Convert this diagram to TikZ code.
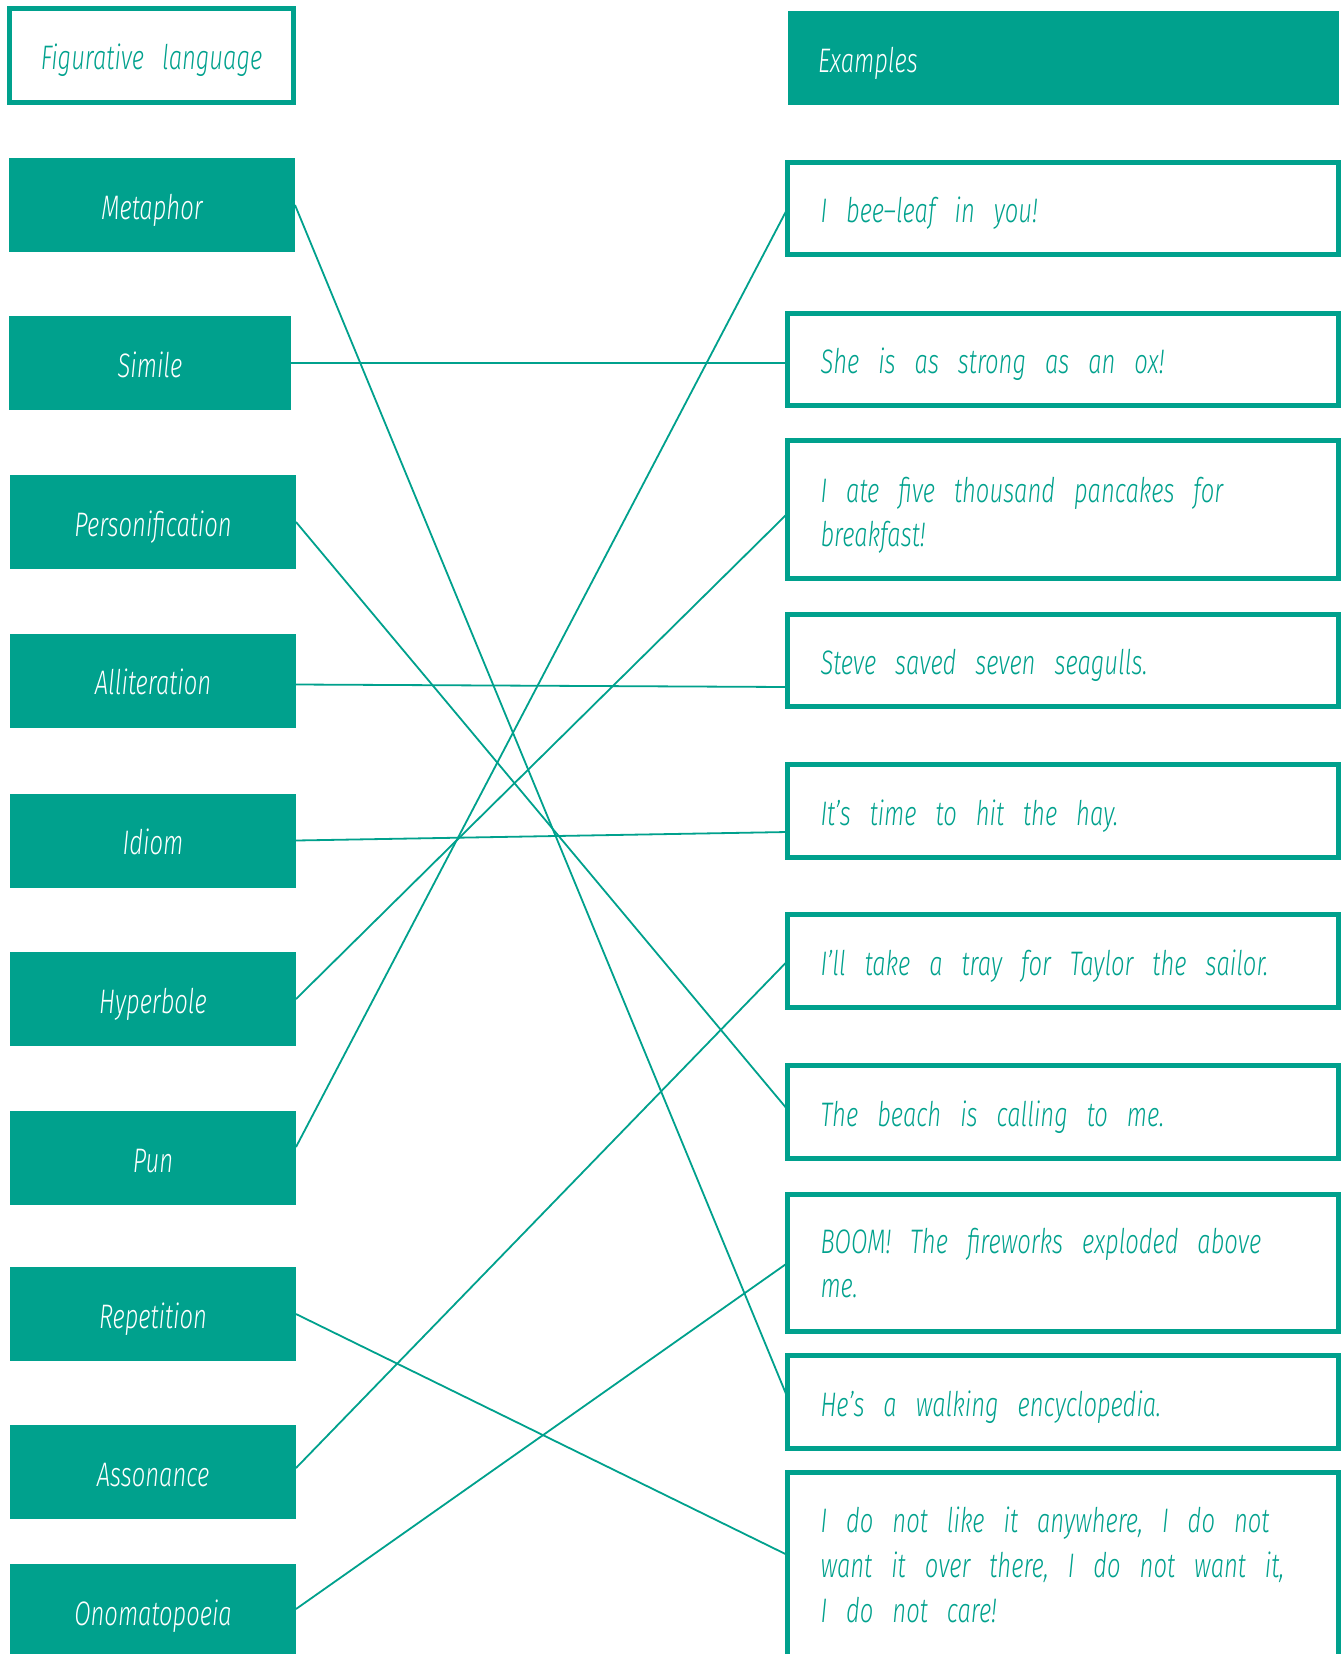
\documentclass[tikz,border=0pt]{standalone}
\usepackage{fontspec}
\newfontfamily\hand{Fira Sans Light}[ItalicFont={Fira Sans Light Italic}, FakeStretch=0.70]
\newfontfamily\handn{Fira Sans Light}[ItalicFont={Fira Sans Light Italic}, FakeStretch=0.70]
\definecolor{teal1}{RGB}{0,161,141}
\tikzset{
  widesp/.style={execute at begin node={\spaceskip=#1 plus 1pt minus 1pt\relax\xspaceskip=\spaceskip}},
  handfont/.style={font={\hand\itshape\fontsize{17}{22}\selectfont},
    text height=14pt, text depth=0pt, widesp=9.5pt},
  labfont/.style={font={\handn\itshape\fontsize{17}{22}\selectfont},
    text height=14pt, text depth=0pt, widesp=9pt},
  lab/.style={fill=teal1, text=white, minimum width=143pt, minimum height=47pt,
    inner sep=0pt, outer sep=0pt, labfont},
  exbox/.style={draw=teal1, line width=2.5pt, text=teal1, minimum height=46pt,
    text width=242.5pt, inner xsep=16.5pt, inner ysep=0pt, align=left, outer sep=0pt, handfont},
  twolines/.style={text height=10pt, text depth=#1},
  conn/.style={draw=teal1, line width=0.9pt},
}
\begin{document}
\begin{tikzpicture}[x=0.5pt,y=-0.5pt]
\fill[white] (0,0) rectangle (1343,1654);
\begin{scope}
\clip (0,0) rectangle (1343,1654);
% headers
\node[draw=teal1, line width=2.5pt, text=teal1, minimum width=142pt, minimum height=47pt,
  inner sep=0pt, outer sep=0pt, labfont] (fig) at (151.5,55.5) {Figurative language};
\node[fill=teal1, text=white, text width=245.5pt, inner xsep=15pt, minimum height=47pt,
  inner ysep=0pt, outer sep=0pt, align=left, handfont] (exh) at (1063.5,58) {Examples};
% left labels
\node[lab] (met) at (152,205) {Metaphor};
\node[lab, minimum width=141pt] (sim) at (150,363) {Simile};
\node[lab] (per) at (153,522) {Personification};
\node[lab] (all) at (153,680.5) {Alliteration};
\node[lab] (idi) at (153,840.5) {Idiom};
\node[lab] (hyp) at (153,999) {Hyperbole};
\node[lab] (pun) at (153,1158) {Pun};
\node[lab] (rep) at (153,1314) {Repetition};
\node[lab] (ass) at (153,1472) {Assonance};
\node[lab] (ono) at (153,1611) {Onomatopoeia};
% examples
\node[exbox] (e1) at (1063,208.5) {I bee–leaf in you!};
\node[exbox] (e2) at (1063,359.5) {She is as strong as an ox!};
\node[exbox, minimum height=69pt, twolines=17.5pt] (e3) at (1063,509.5)
  {\mbox{I ate five thousand pancakes for}\\breakfast!};
\node[exbox] (e4) at (1063,660.5) {Steve saved seven seagulls.};
\node[exbox, minimum height=46.5pt] (e5) at (1063,811) {It’s time to hit the hay.};
\node[exbox, minimum height=46.5pt] (e6) at (1063,961) {I’ll take a tray for Taylor the sailor.};
\node[exbox, minimum height=46.5pt] (e7) at (1063,1112) {The beach is calling to me.};
\node[exbox, minimum height=68.5pt, twolines=20pt] (e8) at (1063,1263)
  {\mbox{BOOM! The fireworks exploded above}\\me.};
\node[exbox, minimum height=46.5pt] (e9) at (1063,1402) {He’s a walking encyclopedia.};
\node[exbox, minimum height=92.5pt, twolines=43pt,
  font={\hand\itshape\fontsize{17}{22.5}\selectfont}] (e10) at (1063,1565)
  {\mbox{I do not like it anywhere, I do not}\\\mbox{want it over there, I do not want it,}\\I do not care!};
% connectors
\draw[conn] (met.east) -- ([yshift=2.25pt]e9.west);
\draw[conn] (sim.east) -- ([yshift=-1.75pt]e2.west);
\draw[conn] (per.east) -- ([yshift=1.25pt]e7.west);
\draw[conn] ([yshift=-2pt]all.east) -- ([yshift=-13.25pt]e4.west);
\draw[conn] (idi.east) -- ([yshift=-10.5pt]e5.west);
\draw[conn] (hyp.east) -- ([yshift=-2pt]e3.west);
\draw[conn] ([yshift=5.5pt]pun.east) -- (e1.west);
\draw[conn] (rep.east) -- ([yshift=5pt]e10.west);
\draw[conn] ([yshift=2pt]ass.east) -- (e6.west);
\draw[conn] ([yshift=1pt]ono.east) -- (e8.west);
\end{scope}
\pgfresetboundingbox
\useasboundingbox (0,0) rectangle (1343,1654);
\end{tikzpicture}
\end{document}
